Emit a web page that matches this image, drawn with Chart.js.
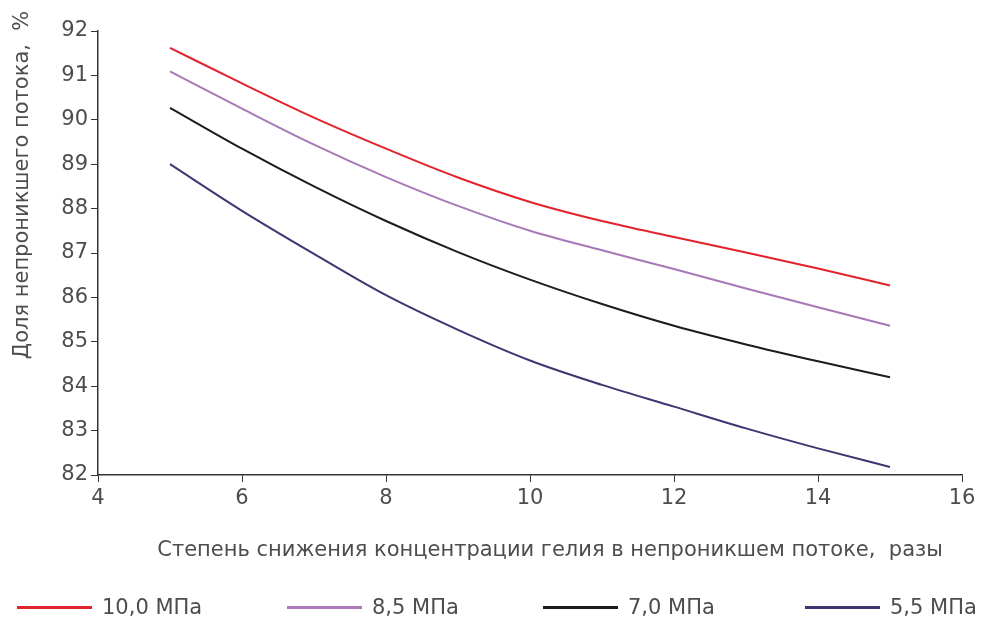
<!DOCTYPE html>
<html>
<head>
<meta charset="utf-8">
<script src="https://cdn.jsdelivr.net/npm/chart.js@4"></script>
<style>
  html, body { margin: 0; padding: 0; background: #fff; }
  #wrap { position: relative; width: 991px; height: 624px; }
  #legend { position: absolute; left: 0; top: 594px; width: 991px; height: 26px;
            font: 21px "DejaVu Sans", sans-serif; color: #4d4d4d; }
  #legend .item { position: absolute; top: 0; display: flex; align-items: center; height: 26px; }
  #legend .line { width: 75px; height: 3px; margin-right: 10px; }
</style>
</head>
<body>
<div id="wrap">
  <canvas id="chart"></canvas>
  <div id="legend"></div>
</div>
<script>
// x: degree of helium concentration reduction (times)
const xValues = [5, 6, 7, 8, 9, 10, 11, 12, 13, 14, 15];

// share of non-permeated flow, %
const p100 = [91.62, 90.82, 90.05, 89.35, 88.70, 88.15, 87.72, 87.36, 87.01, 86.65, 86.27];
const p85  = [91.09, 90.25, 89.44, 88.71, 88.06, 87.50, 87.06, 86.64, 86.20, 85.78, 85.36];
const p70  = [90.27, 89.35, 88.50, 87.72, 87.02, 86.40, 85.85, 85.36, 84.94, 84.56, 84.20];
const p55  = [89.00, 87.95, 86.98, 86.05, 85.27, 84.58, 84.03, 83.54, 83.05, 82.60, 82.18];

const seriesLabels = ['10,0 МПа', '8,5 МПа', '7,0 МПа', '5,5 МПа'];
const seriesColors = ['#e3232c', '#a878b8', '#1c1c1c', '#3b3770'];
const seriesData = [p100, p85, p70, p55];
const legendLeft = [17, 287, 543, 805];

const yTitle = 'Доля непроникшего потока,  %';
const xTitle = 'Степень снижения концентрации гелия в непроникшем потоке,  разы';

const textColor = '#4d4d4d';
const axisColor = '#333';
const fontFamily = '"DejaVu Sans", sans-serif';

// axis titles drawn by hand so they sit where the original has them
const axisTitles = {
  id: 'axisTitles',
  afterDraw(chart) {
    const ctx = chart.ctx;
    ctx.save();
    ctx.fillStyle = textColor;
    ctx.font = '21px ' + fontFamily;
    ctx.textAlign = 'center';
    ctx.textBaseline = 'middle';
    ctx.fillText(xTitle, 550, 551);
    ctx.translate(23, 185);
    ctx.rotate(-Math.PI / 2);
    ctx.fillText(yTitle, 0, 0);
    ctx.restore();
  }
};

const datasets = seriesData.map((vals, i) => ({
  label: seriesLabels[i],
  data: xValues.map((x, j) => ({ x: x, y: vals[j] })),
  borderColor: seriesColors[i],
  backgroundColor: seriesColors[i],
  borderWidth: 2,
  pointRadius: 0,
  cubicInterpolationMode: 'monotone',
  fill: false
}));

const chart = new Chart(document.getElementById('chart'), {
  type: 'line',
  data: { datasets: datasets },
  options: {
    responsive: true,
    maintainAspectRatio: false,
    animation: false,
    layout: { padding: { left: 0, right: 29, top: 31, bottom: 0 } },
    plugins: {
      tooltip: { enabled: false },
      legend: { display: false }
    },
    scales: {
      x: {
        type: 'linear',
        min: 4,
        max: 16,
        ticks: { stepSize: 2, color: textColor, padding: 4, font: { family: fontFamily, size: 21 } },
        grid: { drawOnChartArea: false, drawTicks: true, tickLength: 7, color: axisColor },
        border: { color: axisColor, width: 1.5 },
        afterFit(s) { s.height = 149; }
      },
      y: {
        min: 82,
        max: 92,
        ticks: { stepSize: 1, color: textColor, padding: 3, font: { family: fontFamily, size: 21 } },
        grid: { drawOnChartArea: false, drawTicks: true, tickLength: 7, color: axisColor },
        border: { color: axisColor, width: 1.5 },
        afterFit(s) { s.width = 98; }
      }
    }
  },
  plugins: [axisTitles]
});

// html legend built from the chart's own legend items
const legendEl = document.getElementById('legend');
const items = chart.options.plugins.legend.labels.generateLabels(chart);
items.forEach((item, i) => {
  const div = document.createElement('div');
  div.className = 'item';
  div.style.left = legendLeft[i] + 'px';
  const line = document.createElement('span');
  line.className = 'line';
  line.style.background = item.strokeStyle;
  const text = document.createElement('span');
  text.textContent = item.text;
  div.appendChild(line);
  div.appendChild(text);
  legendEl.appendChild(div);
});
</script>
</body>
</html>
